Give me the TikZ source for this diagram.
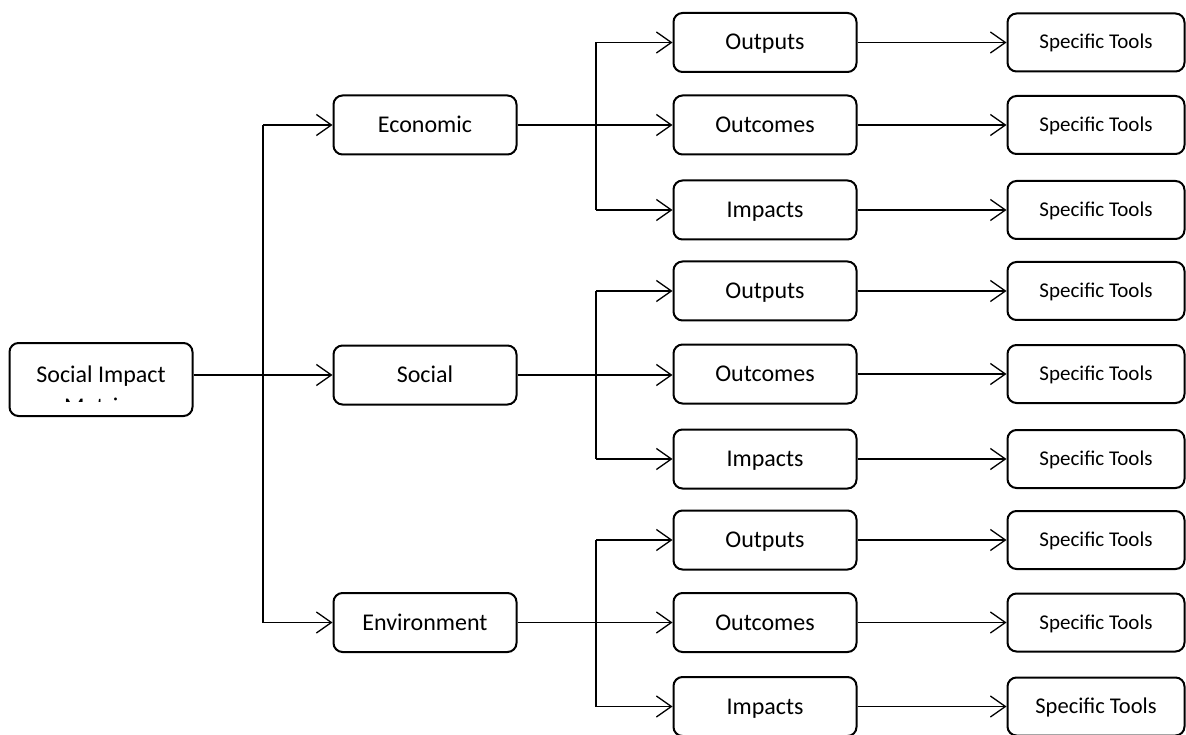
\documentclass[tikz,border=0pt]{standalone}
\usepackage{fontspec}
\setmainfont{Carlito}
\usetikzlibrary{arrows.meta}
\begin{document}
\begin{tikzpicture}[x=1pt,y=-1pt,
  box/.style={draw, line width=2pt, rounded corners=9pt, inner sep=0pt, align=center, text height=20pt, text depth=5pt, font=\fontsize{24}{29}\selectfont},
  midbox/.style={box, minimum width=183pt, minimum height=59pt},
  leafbox/.style={box, minimum width=183pt, minimum height=59pt},
  toolbox/.style={box, minimum width=177pt, minimum height=58pt, text height=18pt, text depth=5pt, font=\fontsize{21}{25}\selectfont},
  conn/.style={line width=1.3pt},
  arr/.style={conn, -{Straight Barb[length=15pt, width=21pt, line width=1.3pt]}}
]
\useasboundingbox (0,0) rectangle (1186,735);

% root
\node[draw, line width=2pt, rounded corners=9pt, minimum width=183pt, minimum height=73pt] (root) at (101,379.5) {};
\begin{scope}
  \clip (10,343) rectangle (193,401);
  \node[anchor=base, inner sep=0pt, font=\fontsize{24}{29}\selectfont] (roottxt1) at (101,382) {Social Impact};
  \node[anchor=base, inner sep=0pt, font=\fontsize{24}{29}\selectfont] (roottxt2) at (101,414) {Metrics};
\end{scope}

% middle level
\node[midbox] (eco) at (425,125) {Economic};
\node[midbox] (soc) at (425,375) {Social};
\node[midbox] (env) at (425,622.5) {Environment};

% leaves
\node[leafbox] (o1) at (765,42.5) {Outputs};
\node[leafbox] (c1) at (765,125) {Outcomes};
\node[leafbox] (i1) at (765,210) {Impacts};
\node[leafbox] (o2) at (765,291) {Outputs};
\node[leafbox] (c2) at (765,374) {Outcomes};
\node[leafbox] (i2) at (765,459) {Impacts};
\node[leafbox] (o3) at (765,540) {Outputs};
\node[leafbox] (c3) at (765,622.5) {Outcomes};
\node[leafbox] (i3) at (765,706.5) {Impacts};

% tools
\node[toolbox] (t1) at (1096,42.5) {Specific Tools};
\node[toolbox] (t2) at (1096,125) {Specific Tools};
\node[toolbox] (t3) at (1096,210) {Specific Tools};
\node[toolbox] (t4) at (1096,291) {Specific Tools};
\node[toolbox] (t5) at (1096,374) {Specific Tools};
\node[toolbox] (t6) at (1096,459) {Specific Tools};
\node[toolbox] (t7) at (1096,540) {Specific Tools};
\node[toolbox] (t8) at (1096,622.5) {Specific Tools};
\node[toolbox, text height=19pt, font=\fontsize{22.5}{27}\selectfont] (t9) at (1096,706.5) {Specific Tools};

% first level connectors
\coordinate (j0) at (263,375);
\draw[conn] (j0 |- eco.west) -- (j0 |- env.west);
\draw[arr] (root.east |- soc.west) -- (soc.west);
\draw[arr] (j0 |- eco.west) -- (eco.west);
\draw[arr] (j0 |- env.west) -- (env.west);

% second level connectors
\coordinate (j1) at (596,125);
\draw[conn] (j1 |- o1.west) -- (j1 |- i1.west);
\draw[arr] (eco.east) -- (c1.west);
\draw[arr] (j1 |- o1.west) -- (o1.west);
\draw[arr] (j1 |- i1.west) -- (i1.west);

\coordinate (j2) at (596,375);
\draw[conn] (j2 |- o2.west) -- (j2 |- i2.west);
\draw[arr] (soc.east) -- (c2.west |- soc.east);
\draw[arr] (j2 |- o2.west) -- (o2.west);
\draw[arr] (j2 |- i2.west) -- (i2.west);

\coordinate (j3) at (596,622.5);
\draw[conn] (j3 |- o3.west) -- (j3 |- i3.west);
\draw[arr] (env.east) -- (c3.west);
\draw[arr] (j3 |- o3.west) -- (o3.west);
\draw[arr] (j3 |- i3.west) -- (i3.west);

% tool connectors
\foreach \a/\b in {o1/t1,c1/t2,i1/t3,o2/t4,c2/t5,i2/t6,o3/t7,c3/t8,i3/t9}
  \draw[arr] (\a.east) -- (\b.west);
\end{tikzpicture}
\end{document}
